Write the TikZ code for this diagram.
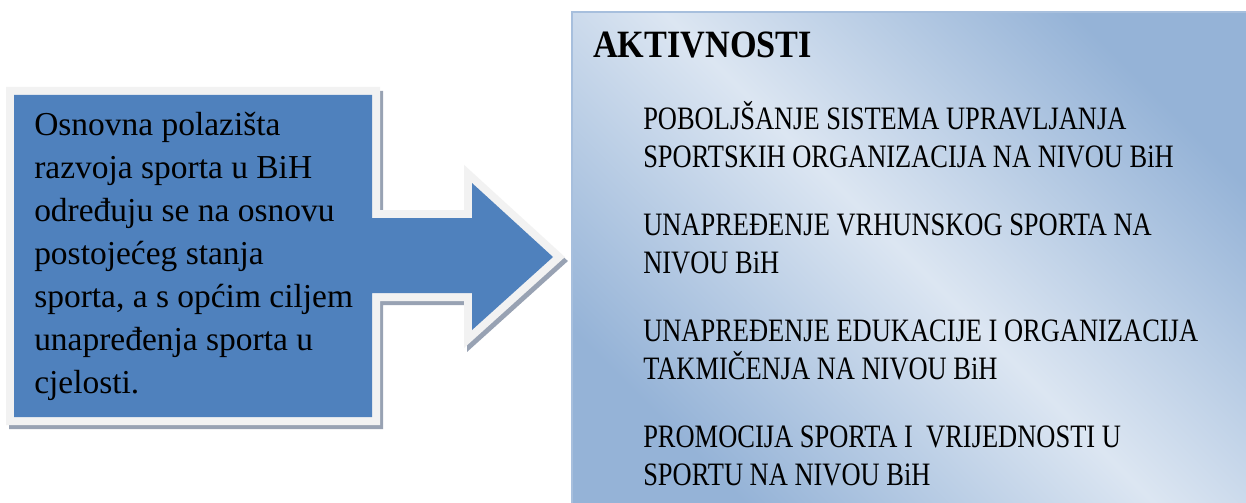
\documentclass[tikz,border=0pt]{standalone}
\usepackage{fontspec}
\setmainfont{Liberation Serif}
\newfontfamily\leftfont{Liberation Serif}
\newfontfamily\itemfont[FakeStretch=0.81]{Liberation Serif}
\newfontfamily\headfont[FakeStretch=0.885]{Liberation Serif}
\definecolor{arrowblue}{HTML}{4F81BD}
\definecolor{rimgray}{HTML}{F2F2F2}
\definecolor{shadowgray}{HTML}{98A2B3}
\definecolor{bdark}{HTML}{95B3D7}
\definecolor{blight}{HTML}{DCE6F2}
\definecolor{edgeblue}{HTML}{A7BFDD}
\pgfdeclarehorizontalshading{diagband}{100bp}{color(0bp)=(bdark); color(25bp)=(bdark); color(50bp)=(blight); color(75bp)=(bdark); color(100bp)=(bdark)}
\begin{document}
\begin{tikzpicture}[x=0.75pt,y=-0.75pt,
  arrowpath/.style={insert path={(14,95) -- (372,95) -- (372,218) -- (472,218) -- (472,183) -- (553,257) -- (472,330) -- (472,293) -- (372,293) -- (372,417) -- (14,417) -- cycle}},
  arrowshadow/.style={draw=shadowgray, fill=shadowgray, line width=12pt, line join=miter, miter limit=10},
  arrowrim/.style={draw=rimgray, fill=rimgray, line width=12pt, line join=miter, miter limit=10},
  arrowfill/.style={fill=arrowblue},
  boxedge/.style={draw=edgeblue, line width=1.5pt},
  lefttext/.style={anchor=base west, inner sep=0pt, text=black, font=\leftfont\fontsize{25.1}{32.3}\selectfont},
  headtext/.style={anchor=base west, inner sep=0pt, text=black, font=\headfont\bfseries\fontsize{29}{34}\selectfont},
  itemtext/.style={anchor=base west, inner sep=0pt, text=black, font=\itemfont\fontsize{24.5}{28.9}\selectfont}]
\useasboundingbox (0,0) rectangle (1246,503);
\fill[white] (0,0) rectangle (1246,503);
% right box
\shade[shading=diagband, shading angle=45] (572,12) rectangle (1246,503);
\draw[boxedge] (572,503) -- (572,12) -- (1246,12);
% arrow
\path[arrowshadow, shift={(3,4)}, arrowpath];
\path[arrowrim, arrowpath];
\path[arrowfill, arrowpath];
% texts
\node[lefttext] (desc) at (34,135) {\vtop{\baselineskip=32.3pt
  \hbox{Osnovna polazišta}
  \hbox{razvoja sporta u BiH}
  \hbox{određuju se na osnovu}
  \hbox{postojećeg stanja}
  \hbox{sporta, a s općim ciljem}
  \hbox{unapređenja sporta u}
  \hbox{cjelosti.}}};
\node[headtext] (head) at (593,58) {AKTIVNOSTI};
\node[itemtext] (act1) at (643,129) {\vtop{\baselineskip=28.9pt
  \hbox{POBOLJŠANJE SISTEMA UPRAVLJANJA}
  \hbox{SPORTSKIH ORGANIZACIJA NA NIVOU BiH}}};
\node[itemtext] (act2) at (643,235) {\vtop{\baselineskip=28.9pt
  \hbox{UNAPREĐENJE VRHUNSKOG SPORTA NA}
  \hbox{NIVOU BiH}}};
\node[itemtext] (act3) at (643,341) {\vtop{\baselineskip=28.9pt
  \hbox{UNAPREĐENJE EDUKACIJE I ORGANIZACIJA}
  \hbox{TAKMIČENJA NA NIVOU BiH}}};
\node[itemtext] (act4) at (643,447) {\vtop{\baselineskip=28.9pt
  \hbox{PROMOCIJA SPORTA I\ \ VRIJEDNOSTI U}
  \hbox{SPORTU NA NIVOU BiH}}};
\end{tikzpicture}
\end{document}
